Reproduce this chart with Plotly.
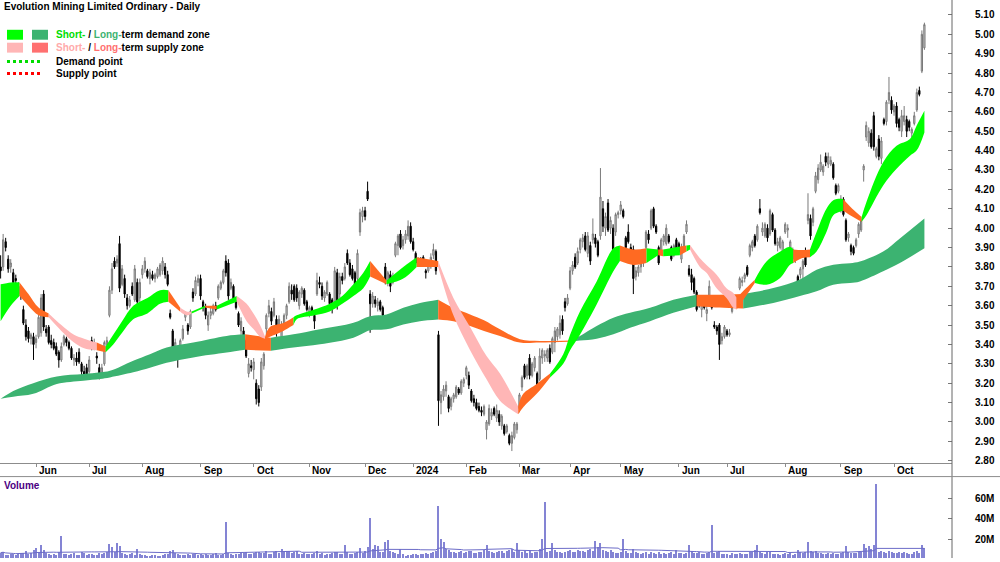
import numpy as np
import pandas as pd
import plotly.graph_objects as go

# ---------------- data ----------------
holidays = ["2023-06-12", "2023-12-25", "2023-12-26", "2024-01-01", "2024-01-26",
            "2024-03-29", "2024-04-01", "2024-04-25", "2024-06-10"]

opens = [
    # May 2023
    3.80,3.80,3.93,3.84,3.80,3.77,3.74,3.70,3.66,3.58,3.50,3.47,3.43,3.44,
    # Jun
    3.41,3.44,3.46,3.66,3.48,3.49,3.42,3.41,3.39,3.36,3.32,3.40,3.43,3.41,3.38,3.32,3.33,3.36,3.30,3.26,3.28,
    # Jul
    3.26,3.42,3.38,3.34,3.28,3.25,3.30,3.40,3.55,3.68,3.83,3.82,3.92,3.71,3.74,3.64,3.60,3.70,3.63,3.72,3.64,
    # Aug
    3.76,3.79,3.78,3.74,3.76,3.74,3.75,3.76,3.78,3.80,3.76,3.56,3.47,3.39,3.37,3.37,3.43,3.54,3.50,3.49,3.67,3.66,3.72,
    # Sep
    3.74,3.62,3.59,3.50,3.55,3.56,3.60,3.64,3.69,3.72,3.83,3.82,3.69,3.70,3.62,3.56,3.47,3.47,3.42,3.25,3.29,
    # Oct
    3.27,3.20,3.17,3.18,3.29,3.48,3.56,3.57,3.55,3.53,3.47,3.44,3.50,3.55,3.62,3.68,3.70,3.69,3.60,3.66,3.68,3.62,
    # Nov
    3.56,3.59,3.55,3.66,3.72,3.70,3.64,3.66,3.66,3.63,3.62,3.77,3.66,3.75,3.74,3.87,3.82,3.79,3.77,3.74,3.98,4.06,
    # Dec
    4.09,4.19,3.66,3.61,3.63,3.60,3.62,3.59,3.80,3.72,3.76,3.72,3.86,3.91,3.97,3.91,3.94,3.96,4.01,
    # Jan 2024
    3.93,3.87,3.82,3.83,3.85,3.78,3.78,3.80,3.86,3.88,3.45,3.10,3.13,3.16,3.13,3.08,3.12,3.13,3.17,3.15,3.20,
    # Feb
    3.24,3.24,3.16,3.12,3.10,3.08,3.06,3.04,2.96,2.99,3.03,3.07,3.02,3.04,2.98,2.98,2.95,2.93,2.89,2.92,2.96,
    # Mar
    3.07,3.18,3.29,3.24,3.33,3.24,3.28,3.25,3.22,3.33,3.34,3.33,3.38,3.36,3.41,3.44,3.45,3.53,3.62,3.61,
    # Apr
    3.69,3.78,3.85,3.82,3.89,3.93,3.96,3.87,3.91,3.94,3.95,3.93,3.96,4.10,4.00,4.13,4.00,4.00,3.98,4.07,
    # May
    4.09,4.09,3.95,3.98,3.90,3.89,3.75,3.77,3.80,3.82,3.90,3.97,4.00,4.10,4.01,3.90,3.88,3.93,3.92,3.96,3.90,3.86,3.94,
    # Jun
    3.92,3.84,3.90,3.98,3.79,3.76,3.74,3.67,3.63,3.58,3.63,3.56,3.62,3.63,3.50,3.49,3.50,3.42,3.44,
    # Jul
    3.47,3.45,3.57,3.60,3.61,3.69,3.72,3.74,3.80,3.86,3.90,3.96,3.94,4.10,3.98,3.96,4.00,3.97,4.07,3.99,3.91,3.90,3.86,
    # Aug
    3.98,3.99,3.87,3.84,3.84,3.75,3.76,3.79,3.86,4.04,4.05,4.03,4.19,4.25,4.30,4.29,4.37,4.33,4.33,4.33,4.22,4.19,
    # Sep
    4.10,4.15,4.04,3.95,3.91,3.90,3.91,3.97,3.99,4.30,4.47,4.44,4.49,4.58,4.37,4.46,4.36,4.56,4.55,4.66,4.66,
    # Oct
    4.60,4.63,4.56,4.50,4.55,4.56,4.55,4.49,4.54,4.61,4.71,4.81,4.93,
]

highs = [
    3.86,3.97,3.95,3.86,3.84,3.79,3.76,3.72,3.69,3.60,3.53,3.49,3.46,3.46,
    3.45,3.56,3.66,3.68,3.50,3.50,3.45,3.43,3.41,3.37,3.41,3.45,3.44,3.42,3.39,3.35,3.36,3.38,3.31,3.29,3.30,
    3.34,3.44,3.43,3.36,3.30,3.30,3.42,3.44,3.70,3.82,3.85,3.86,3.96,3.81,3.76,3.66,3.65,3.72,3.81,3.74,3.74,
    3.81,3.85,3.79,3.79,3.78,3.77,3.80,3.82,3.85,3.82,3.78,3.58,3.48,3.43,3.38,3.43,3.50,3.57,3.51,3.58,3.69,3.75,3.76,
    3.76,3.63,3.61,3.57,3.59,3.61,3.62,3.71,3.73,3.79,3.86,3.84,3.74,3.71,3.63,3.57,3.54,3.49,3.43,3.33,3.32,
    3.33,3.22,3.19,3.33,3.36,3.56,3.63,3.59,3.64,3.55,3.55,3.52,3.56,3.61,3.72,3.71,3.71,3.71,3.68,3.70,3.69,3.63,
    3.60,3.60,3.57,3.77,3.75,3.72,3.68,3.73,3.67,3.64,3.80,3.79,3.77,3.77,3.82,3.89,3.84,3.81,3.78,3.89,4.10,4.11,
    4.11,4.24,3.68,3.67,3.65,3.64,3.63,3.60,3.82,3.78,3.78,3.77,3.93,3.97,3.99,3.96,3.99,4.04,4.03,
    3.95,3.88,3.85,3.85,3.86,3.79,3.83,3.87,3.92,3.89,3.47,3.16,3.19,3.21,3.14,3.13,3.15,3.19,3.18,3.22,3.23,
    3.29,3.26,3.17,3.14,3.12,3.10,3.08,3.09,3.01,3.09,3.07,3.08,3.09,3.06,3.04,2.99,2.99,2.94,2.95,3.00,3.00,
    3.15,3.24,3.30,3.30,3.35,3.31,3.34,3.26,3.38,3.38,3.37,3.38,3.40,3.44,3.49,3.49,3.55,3.55,3.64,3.66,
    3.80,3.83,3.87,3.90,3.95,3.97,3.98,3.98,3.93,4.05,3.97,3.94,4.31,4.14,4.08,4.15,4.06,4.02,4.08,4.09,
    4.14,4.10,3.96,4.02,3.92,3.91,3.80,3.81,3.84,3.87,3.99,3.99,4.10,4.11,4.02,3.91,3.95,3.97,4.02,3.97,3.91,3.92,3.95,
    3.93,3.92,3.97,4.04,3.81,3.79,3.75,3.68,3.64,3.64,3.64,3.60,3.73,3.64,3.52,3.50,3.51,3.46,3.50,
    3.48,3.48,3.60,3.63,3.65,3.75,3.75,3.77,3.81,3.92,3.94,3.97,4.02,4.15,4.03,4.03,4.02,4.10,4.08,4.00,3.95,3.96,3.94,
    4.03,4.02,3.94,3.90,3.87,3.76,3.80,3.84,3.90,4.18,4.07,4.11,4.29,4.33,4.38,4.33,4.39,4.39,4.37,4.34,4.23,4.23,
    4.17,4.16,4.05,3.98,3.92,3.91,3.95,4.03,4.05,4.33,4.55,4.52,4.51,4.60,4.42,4.48,4.47,4.57,4.66,4.78,4.68,
    4.64,4.65,4.57,4.61,4.63,4.58,4.56,4.52,4.60,4.72,4.73,5.02,5.06,
]

lows = [
    3.74,3.78,3.88,3.77,3.77,3.71,3.70,3.65,3.63,3.50,3.42,3.41,3.40,3.32,
    3.38,3.43,3.44,3.47,3.44,3.40,3.38,3.37,3.34,3.28,3.31,3.39,3.39,3.37,3.32,3.29,3.29,3.30,3.24,3.22,3.22,
    3.25,3.37,3.37,3.30,3.22,3.24,3.29,3.38,3.54,3.66,3.79,3.80,3.67,3.70,3.64,3.58,3.59,3.65,3.62,3.58,3.62,
    3.74,3.77,3.74,3.71,3.73,3.72,3.74,3.75,3.76,3.74,3.70,3.53,3.33,3.35,3.28,3.36,3.42,3.52,3.45,3.48,3.62,3.65,3.70,
    3.63,3.57,3.53,3.47,3.53,3.55,3.57,3.63,3.68,3.71,3.75,3.63,3.68,3.62,3.58,3.49,3.45,3.40,3.33,3.23,3.26,
    3.22,3.09,3.08,3.16,3.27,3.43,3.54,3.50,3.54,3.44,3.46,3.41,3.48,3.53,3.61,3.63,3.62,3.62,3.58,3.64,3.60,3.57,
    3.54,3.55,3.48,3.65,3.69,3.63,3.62,3.65,3.60,3.56,3.60,3.58,3.64,3.71,3.73,3.81,3.75,3.73,3.67,3.72,3.96,4.03,
    4.04,4.14,3.46,3.59,3.59,3.57,3.57,3.51,3.71,3.70,3.67,3.71,3.85,3.86,3.89,3.89,3.92,3.94,3.92,
    3.88,3.81,3.80,3.81,3.80,3.74,3.77,3.79,3.84,3.76,2.98,3.04,3.11,3.13,3.05,3.06,3.10,3.12,3.14,3.14,3.18,
    3.22,3.17,3.10,3.08,3.06,3.05,3.03,3.03,2.91,2.98,3.01,3.03,3.00,2.98,2.96,2.93,2.94,2.88,2.85,2.91,2.94,
    3.05,3.16,3.22,3.22,3.22,3.23,3.26,3.18,3.21,3.30,3.31,3.31,3.30,3.35,3.36,3.42,3.43,3.45,3.57,3.60,
    3.68,3.76,3.79,3.81,3.87,3.90,3.88,3.85,3.81,3.92,3.90,3.85,3.94,3.98,3.96,3.98,3.97,3.83,3.96,4.05,
    4.07,4.05,3.88,3.92,3.84,3.66,3.73,3.75,3.77,3.80,3.89,3.92,3.99,4.00,3.97,3.81,3.87,3.91,3.91,3.92,3.83,3.85,3.87,
    3.87,3.82,3.89,3.97,3.75,3.68,3.66,3.57,3.59,3.54,3.58,3.52,3.60,3.58,3.48,3.45,3.32,3.40,3.43,
    3.44,3.44,3.56,3.59,3.60,3.68,3.70,3.72,3.75,3.85,3.88,3.90,3.93,4.07,3.96,3.95,3.93,3.96,3.98,3.91,3.88,3.89,3.85,
    3.97,3.95,3.86,3.82,3.82,3.65,3.74,3.72,3.80,4.02,3.94,4.01,4.18,4.23,4.29,4.27,4.32,4.31,4.32,4.25,4.17,4.18,
    4.08,4.06,3.93,3.93,3.86,3.86,3.90,3.95,3.98,4.24,4.45,4.42,4.41,4.40,4.36,4.35,4.33,4.53,4.53,4.64,4.59,
    4.58,4.52,4.50,4.47,4.53,4.47,4.50,4.47,4.53,4.60,4.68,4.80,4.92,
]

closes = [
    3.78,3.94,3.90,3.79,3.82,3.72,3.73,3.66,3.65,3.51,3.44,3.43,3.45,3.40,
    3.43,3.54,3.64,3.49,3.46,3.41,3.40,3.38,3.35,3.32,3.39,3.44,3.41,3.38,3.33,3.33,3.31,3.31,3.26,3.24,3.23,
    3.32,3.38,3.41,3.33,3.23,3.28,3.41,3.42,3.68,3.79,3.80,3.84,3.69,3.79,3.66,3.60,3.63,3.66,3.79,3.62,3.72,
    3.79,3.83,3.75,3.77,3.74,3.76,3.79,3.81,3.83,3.76,3.71,3.54,3.37,3.41,3.35,3.42,3.48,3.56,3.47,3.57,3.64,3.73,3.74,
    3.65,3.59,3.55,3.55,3.57,3.60,3.58,3.70,3.72,3.78,3.77,3.65,3.72,3.63,3.59,3.50,3.52,3.41,3.34,3.30,3.28,
    3.31,3.12,3.10,3.31,3.35,3.55,3.60,3.52,3.62,3.46,3.53,3.50,3.55,3.60,3.70,3.66,3.63,3.64,3.67,3.69,3.61,3.58,
    3.59,3.56,3.52,3.73,3.71,3.65,3.67,3.72,3.61,3.59,3.78,3.61,3.75,3.73,3.80,3.82,3.76,3.74,3.69,3.87,4.08,4.09,
    4.06,4.15,3.61,3.65,3.61,3.62,3.58,3.55,3.73,3.77,3.70,3.75,3.92,3.96,3.90,3.94,3.97,4.01,3.93,
    3.89,3.82,3.84,3.82,3.81,3.77,3.82,3.85,3.89,3.78,3.11,3.14,3.17,3.19,3.07,3.12,3.14,3.18,3.15,3.21,3.22,
    3.28,3.19,3.11,3.10,3.07,3.06,3.05,3.08,3.00,3.07,3.05,3.04,3.06,3.00,3.03,2.94,2.98,2.89,2.93,2.99,2.99,
    3.14,3.23,3.23,3.29,3.24,3.30,3.33,3.19,3.34,3.37,3.35,3.37,3.31,3.43,3.47,3.48,3.51,3.47,3.59,3.64,
    3.78,3.81,3.80,3.88,3.94,3.95,3.89,3.96,3.83,3.97,3.92,3.86,4.16,4.01,4.06,3.99,4.04,3.89,4.07,4.08,
    4.12,4.06,3.90,3.93,3.86,3.74,3.78,3.80,3.82,3.85,3.98,3.94,4.09,4.01,3.98,3.82,3.94,3.96,4.00,3.93,3.84,3.91,3.88,
    3.88,3.90,3.96,4.02,3.76,3.72,3.67,3.58,3.60,3.62,3.59,3.58,3.70,3.59,3.49,3.47,3.40,3.44,3.49,
    3.45,3.46,3.59,3.62,3.64,3.74,3.73,3.76,3.76,3.91,3.93,3.91,4.01,4.08,4.00,4.02,3.95,4.09,3.99,3.92,3.93,3.95,3.93,
    4.02,4.00,3.93,3.89,3.86,3.68,3.79,3.83,3.81,4.07,3.96,4.10,4.27,4.31,4.34,4.32,4.34,4.37,4.35,4.26,4.18,4.22,
    4.15,4.07,3.94,3.97,3.88,3.87,3.94,4.02,4.04,4.32,4.53,4.50,4.42,4.42,4.41,4.37,4.45,4.54,4.65,4.70,4.61,
    4.63,4.54,4.52,4.58,4.58,4.50,4.52,4.51,4.58,4.70,4.69,5.00,5.05,
]

volumes_m = [
    6.8,7.5,5.2,4.9,6.1,5.4,4.6,5.8,6.5,7.2,8.4,6.0,7.1,9.3,
    12.1,8.2,14.4,10.0,6.6,5.7,5.1,6.3,4.5,7.8,24.0,6.2,5.4,4.7,5.9,6.9,5.1,4.4,7.6,6.8,5.3,
    5.5,6.2,5.0,4.6,6.4,5.8,7.3,8.2,15.3,13.1,7.5,16.2,14.0,6.8,5.6,4.9,5.8,6.4,4.7,11.2,5.5,
    4.8,5.3,4.1,3.9,4.5,5.2,3.8,4.3,4.9,5.6,6.1,8.5,9.4,6.6,5.7,5.0,4.4,4.9,5.5,5.1,6.2,5.8,4.6,
    5.4,4.9,6.0,5.2,4.6,5.8,6.5,5.1,4.4,5.9,37.6,6.8,5.5,5.0,6.1,5.6,6.4,7.2,8.0,6.3,5.7,
    6.6,8.2,7.8,6.4,7.1,9.0,6.3,5.8,7.4,8.5,6.9,11.1,7.6,8.8,9.2,6.7,7.9,8.4,6.1,5.6,6.8,5.9,
    5.7,6.3,7.1,8.6,5.9,6.5,5.2,6.0,5.6,6.8,8.0,7.4,6.2,5.5,14.2,7.8,6.1,5.4,6.6,8.3,11.5,7.2,
    8.4,12.8,41.5,10.6,14.4,13.3,8.2,7.5,17.2,19.4,8.8,7.6,6.9,5.8,11.1,5.5,4.2,5.1,4.9,
    6.1,5.4,4.9,5.6,6.3,7.1,5.8,6.5,7.4,8.8,53.0,20.3,17.6,11.2,9.4,8.0,7.6,6.8,7.9,8.5,6.7,
    7.8,8.6,9.1,7.2,6.9,8.3,7.5,9.6,14.4,8.8,7.7,6.6,7.9,8.4,9.0,7.3,8.7,9.5,10.3,8.1,17.1,
    9.4,7.9,8.5,7.1,9.2,6.8,8.0,7.6,10.4,20.1,57.3,7.8,8.9,17.0,9.5,7.4,8.2,6.7,7.8,8.6,
    9.6,8.3,7.7,10.0,9.2,8.5,7.6,9.8,10.6,8.9,18.3,13.2,16.4,10.1,8.7,7.9,9.4,8.0,7.3,6.8,
    7.6,20.4,8.8,7.2,6.4,11.1,7.7,6.5,5.9,6.8,7.5,6.2,8.3,7.1,6.0,7.8,5.7,6.6,5.4,6.9,7.6,6.1,9.3,
    6.5,7.2,5.8,6.7,15.1,8.4,7.3,6.6,7.8,6.2,5.7,7.1,8.0,34.8,6.9,7.6,9.1,6.3,5.9,
    5.4,4.9,6.6,5.8,6.1,7.2,5.5,6.3,5.7,7.6,8.2,9.4,15.0,7.9,6.7,5.9,7.4,8.1,6.3,5.6,6.0,5.2,5.8,
    6.4,5.6,6.9,5.3,6.1,9.6,7.4,6.7,8.2,17.3,9.1,7.6,8.4,7.2,6.5,5.8,6.3,7.1,5.9,6.6,5.7,6.2,
    6.8,7.6,14.0,8.2,6.4,7.1,6.6,8.3,7.8,15.2,11.5,13.8,10.4,14.9,74.6,7.4,8.6,7.9,6.8,9.2,7.5,
    7.2,6.6,8.1,6.4,7.8,6.9,5.7,6.3,7.5,9.0,6.8,14.2,11.4,
]

# Zone bands: knot (trading-day number), upper edge, lower edge, zone state of the following stretch
# D = demand, S = supply, T = transition
short_knot = [0,4,7.5,11,15,19,24,29,33,38,41.5,44.5,48,52.4,58,63,66.3,70.9,73.5,75.5,80.8,85.4,93.3,97.2,99.9,
              102.5,104.5,106.4,111.7,115.7,117,124,130,135,139.4,143.3,146,152.5,159.1,164.4,172.9,178.9,185.5,
              192,197.3,204.5,206.5,211.8,217.1,222.3,225,228.9,235.5,242.1,244.7,250,255.2,259.8,261.8,268.4,
              271,272.4,276.3,278.9,282.9,286.8,289.5,290.8,294.5,298,302.6,307.9,311.9,313.2,316.5,319.8,322.4,
              326.3,329,331.6,332.9,336.5,340.2,342.1,348.7,354,359.3,361.9,365]
short_upper = [3.71,3.72,3.72,3.66,3.59,3.56,3.50,3.45,3.43,3.41,3.39,3.45,3.52,3.60,3.64,3.68,3.68,3.59,3.57,3.57,
               3.60,3.60,3.65,3.61,3.56,3.50,3.44,3.49,3.51,3.54,3.55,3.58,3.61,3.65,3.71,3.77,3.83,3.73,3.80,3.85,
               3.83,3.64,3.49,3.34,3.25,3.08,3.145,3.196,3.25,3.35,3.45,3.57,3.725,3.896,3.91,3.89,3.896,3.89,3.89,
               3.905,3.91,3.913,3.845,3.81,3.76,3.69,3.666,3.64,3.69,3.734,3.828,3.878,3.904,3.89,3.887,3.89,3.98,
               4.10,4.144,4.152,4.15,4.10,4.058,4.135,4.34,4.425,4.46,4.528,4.605]
short_lower = [3.52,3.60,3.65,3.60,3.55,3.54,3.47,3.41,3.38,3.37,3.36,3.40,3.46,3.53,3.56,3.61,3.62,3.57,3.55,3.56,
               3.59,3.58,3.62,3.52,3.48,3.44,3.43,3.44,3.47,3.50,3.53,3.55,3.57,3.61,3.65,3.69,3.75,3.71,3.74,3.80,
               3.80,3.55,3.37,3.22,3.11,3.04,3.076,3.145,3.23,3.30,3.37,3.45,3.606,3.777,3.83,3.81,3.82,3.86,3.855,
               3.86,3.88,3.89,3.80,3.77,3.69,3.64,3.589,3.58,3.65,3.717,3.708,3.742,3.811,3.82,3.845,3.85,3.88,
               3.98,4.067,4.084,4.09,4.06,4.033,4.067,4.22,4.306,4.374,4.40,4.494]
short_state = ["D","D","T","T","T","S","S","S","S","T","D","D","D","D","D","D","T","S","S","D","T","D","S","S","S",
               "S","T","T","T","D","D","D","D","D","D","D","T","D","D","T","S","S","S","S","S","T","T","T","D","D",
               "D","D","D","D","T","T","D","T","D","T","D","S","S","S","S","S","S","T","T","D","D","D","D","T","T",
               "D","D","D","D","D","T","T","D","D","D","D","D","D","D"]

long_knot = [0,5,12.9,22.2,32.7,39.3,43.2,52.4,59,65.6,76.1,89.3,96.6,106.8,115.7,126.2,139.4,146,152.5,159.1,165.7,
             172.9,178.9,185.5,191,197.3,205.2,213.1,225,228.9,235.5,242.1,248.7,256.6,265.8,275,284,293.4,305.3,
             315.8,322.4,329,335.6,339.5,348.7,355.3,365]
long_upper = [3.12,3.16,3.20,3.235,3.247,3.256,3.264,3.316,3.35,3.384,3.41,3.444,3.452,3.435,3.452,3.478,3.512,3.546,
              3.555,3.589,3.614,3.631,3.589,3.555,3.525,3.478,3.427,3.418,3.42,3.444,3.495,3.538,3.563,3.589,3.631,
              3.657,3.657,3.66,3.691,3.735,3.785,3.811,3.819,3.828,3.879,3.947,4.05]
long_lower = [3.12,3.13,3.145,3.196,3.213,3.222,3.23,3.256,3.28,3.305,3.333,3.358,3.372,3.367,3.384,3.401,3.435,3.473,
              3.478,3.503,3.52,3.529,3.52,3.495,3.47,3.444,3.41,3.41,3.414,3.42,3.43,3.452,3.486,3.52,3.563,3.597,
              3.59,3.585,3.614,3.65,3.674,3.708,3.717,3.725,3.777,3.82,3.896]
long_state = ["D","D","D","D","D","D","D","D","D","D","D","D","T","D","D","D","D","D","D","D","D","T","T","T","T",
              "T","T","T","D","D","D","D","D","D","D","T","T","D","D","D","D","D","D","D","D","D","D"]

price_tick_labels = ["2.80","2.90","3.00","3.10","3.20","3.30","3.40","3.50","3.60","3.70","3.80","3.90",
                     "4.00","4.10","4.20","4.30","4.40","4.50","4.60","4.70","4.80","4.90","5.00","5.10"]
volume_tick_values = [20e6, 40e6, 60e6]
volume_tick_labels = ["20M", "40M", "60M"]

# ---------------- build ----------------
dates = pd.bdate_range("2023-05-12", "2024-10-17")
dates = dates[~dates.isin(pd.to_datetime(holidays))]
n = len(closes)
assert len(dates) == n == len(opens) == len(highs) == len(lows) == len(volumes_m), (len(dates), n)
xi = np.arange(n)
volumes = np.array(volumes_m) * 1e6
vol_ma = pd.Series(volumes).rolling(30, min_periods=1).mean()

W, H = 1000, 562
PLOT_R = 952
def px_x(p):
    return p / PLOT_R
def px_y(p):
    return 1 - p / H

FONT = "Liberation Sans, Arial, sans-serif"
ORANGE = "#FF6A22"
short_colors = {"D": "#00FF00", "S": "#FFB6B6", "T": ORANGE}
long_colors = {"D": "#3CB371", "S": "#FF7070", "T": ORANGE}

fig = go.Figure()

def add_band(kx, hi, lo, state, colors):
    m = len(kx)
    s = 0
    while s < m - 1:
        z = state[s]
        e = s
        while e + 1 < m - 1 and state[e + 1] == z:
            e += 1
        xs = kx[s:e + 2]
        fig.add_trace(go.Scatter(x=xs, y=lo[s:e + 2], mode="lines",
                                 line=dict(width=0, shape="spline", smoothing=1),
                                 hoverinfo="skip", showlegend=False, xaxis="x", yaxis="y"))
        fig.add_trace(go.Scatter(x=xs, y=hi[s:e + 2], mode="lines",
                                 line=dict(width=0, shape="spline", smoothing=1),
                                 fill="tonexty", fillcolor=colors[z],
                                 hoverinfo="skip", showlegend=False, xaxis="x", yaxis="y"))
        s = e + 1

add_band(long_knot, long_upper, long_lower, long_state, long_colors)
add_band(short_knot, short_upper, short_lower, short_state, short_colors)

fig.add_trace(go.Candlestick(
    x=xi, open=opens, high=highs, low=lows, close=closes,
    increasing=dict(line=dict(color="#7A7A7A", width=1), fillcolor="#D4D4D4"),
    decreasing=dict(line=dict(color="#000000", width=1), fillcolor="#000000"),
    whiskerwidth=0, showlegend=False, xaxis="x", yaxis="y"))

fig.add_trace(go.Bar(x=xi, y=volumes, width=0.4, marker=dict(color="#8484D4", line=dict(width=0)),
                     showlegend=False, xaxis="x2", yaxis="y2"))
fig.add_trace(go.Scatter(x=xi, y=vol_ma, mode="lines", line=dict(color="#6C6CC8", width=1),
                         showlegend=False, xaxis="x2", yaxis="y2", hoverinfo="skip"))

# month ticks
months = dates.to_period("M")
month_starts = [i for i in range(1, n) if months[i] != months[i - 1]]
month_text = [str(dates[i].year) if dates[i].month == 1 else dates[i].strftime("%b") for i in month_starts]

xrange = [-0.24, 375.9]
fig.update_layout(
    width=W, height=H, margin=dict(l=0, r=W - PLOT_R, t=0, b=0),
    paper_bgcolor="white", plot_bgcolor="white",
    font=dict(family=FONT, size=10, color="#000000", weight="bold"),
    showlegend=False, bargap=0,
    xaxis=dict(domain=[0, 1], range=xrange, anchor="y", rangeslider=dict(visible=False),
               showgrid=False, zeroline=False, showline=True, linecolor="#8C8C8C", linewidth=1,
               tickvals=month_starts, ticks="outside", ticklen=3, tickcolor="#8C8C8C",
               showticklabels=False),
    yaxis=dict(domain=[(H - 466) / H, 1], range=[2.79, 5.177], side="right", anchor="x",
               showgrid=False, zeroline=False, showline=False,
               tickvals=[float(t) for t in price_tick_labels], ticktext=price_tick_labels,
               ticks="inside", ticklen=4, tickcolor="#777777", ticklabelstandoff=22,
               tickfont=dict(family=FONT, size=10, color="#000000", weight="bold")),
    xaxis2=dict(domain=[0, 1], range=xrange, anchor="y2", visible=False),
    yaxis2=dict(domain=[0, 82 / H], range=[1.5e6, 81.5e6], side="right", anchor="x2",
                showgrid=False, zeroline=False, showline=False,
                tickvals=volume_tick_values, ticktext=volume_tick_labels,
                ticks="inside", ticklen=4, tickcolor="#777777", ticklabelstandoff=22,
                tickfont=dict(family=FONT, size=10, color="#000000", weight="bold")),
)

shapes = [
    dict(type="line", xref="paper", yref="paper", x0=1, x1=1, y0=0, y1=1,
         line=dict(color="#666666", width=1)),
    dict(type="line", xref="paper", yref="paper", x0=0, x1=W / PLOT_R, y0=px_y(480), y1=px_y(480),
         line=dict(color="#8C8C8C", width=1)),
]
# legend swatches
for (x0, y0, col) in [(7, 30, "#00FF00"), (32, 30, "#3CB371"), (7, 43, "#FFB6B6"), (32, 43, "#FF7070")]:
    shapes.append(dict(type="rect", xref="paper", yref="paper", x0=px_x(x0), x1=px_x(x0 + 16),
                       y0=px_y(y0 + 10), y1=px_y(y0), fillcolor=col, line=dict(width=0)))
for (yy, col) in [(62, "#00DD00"), (74, "#FF0000")]:
    shapes.append(dict(type="line", xref="paper", yref="paper", x0=px_x(7), x1=px_x(43),
                       y0=px_y(yy), y1=px_y(yy), line=dict(color=col, width=3, dash="dot")))
fig.update_layout(shapes=shapes)

ann = [
    dict(text="Evolution Mining Limited Ordinary - Daily", x=px_x(2), y=px_y(7)),
    dict(text='<span style="color:#00DD00">Short-</span> / <span style="color:#3CB371">Long-</span>term demand zone',
         x=px_x(54), y=px_y(35)),
    dict(text='<span style="color:#FFAAAA">Short-</span> / <span style="color:#FF6F6F">Long-</span>term supply zone',
         x=px_x(54), y=px_y(48)),
    dict(text="Demand point", x=px_x(54), y=px_y(62)),
    dict(text="Supply point", x=px_x(54), y=px_y(74)),
    dict(text='<span style="color:#4B0082">Volume</span>', x=px_x(2), y=px_y(489)),
]
annotations = []
for a in ann:
    annotations.append(dict(text=a["text"], x=a["x"], y=a["y"], xref="paper", yref="paper",
                            xanchor="left", yanchor="middle", showarrow=False,
                            font=dict(family=FONT, size=10, color="#000000", weight="bold")))
for i, t in zip(month_starts, month_text):
    annotations.append(dict(text=t, x=i, y=px_y(474), xref="x", yref="paper", xshift=1,
                            xanchor="left", yanchor="middle", showarrow=False,
                            font=dict(family=FONT, size=10, color="#000000", weight="bold")))
fig.update_layout(annotations=annotations)

fig.write_html("out.html")
